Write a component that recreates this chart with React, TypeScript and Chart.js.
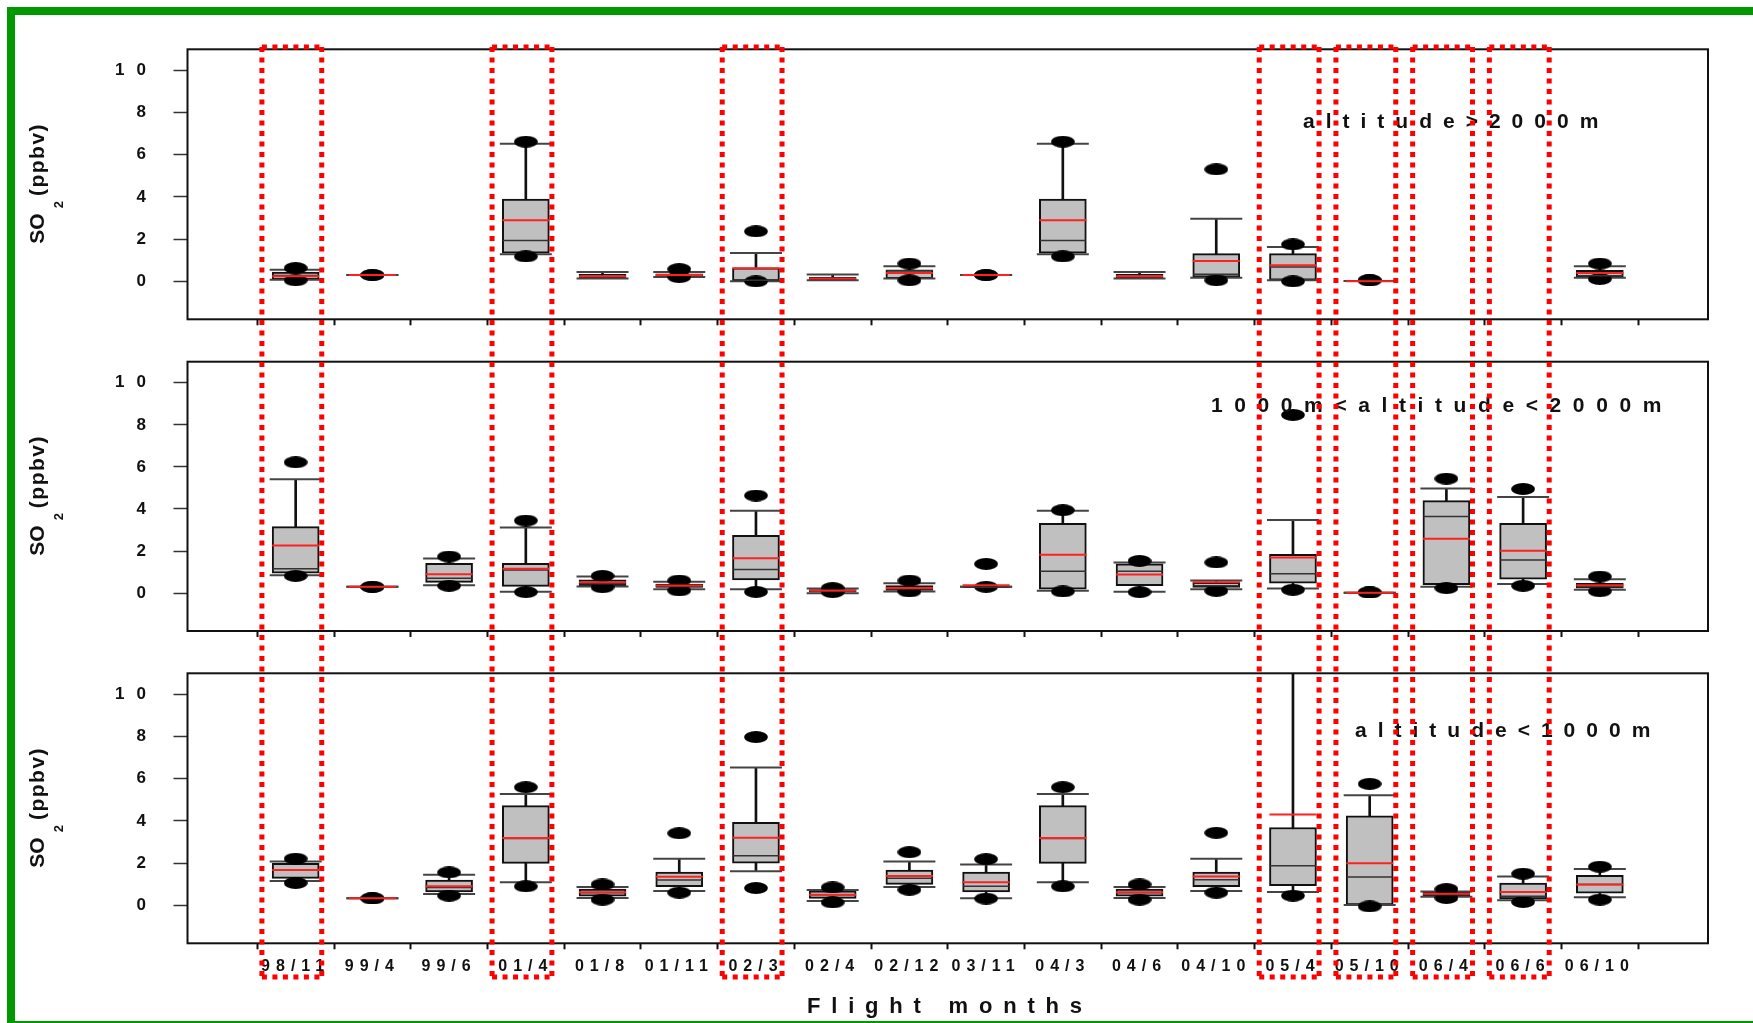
import React, { useEffect, useRef } from 'react';
import { Chart, registerables } from 'chart.js';

Chart.register(...registerables);

// ---------------- data ----------------
const months = ['', '98/11', '99/4', '99/6', '01/4', '01/8', '01/11', '02/3', '02/4', '02/12', '03/11', '04/3', '04/6', '04/10', '05/4', '05/10', '06/4', '06/6', '06/10', ''];
const highlightedMonths = ['98/11', '01/4', '02/3', '05/4', '05/10', '06/4', '06/6'];
const yTickValues = [0, 2, 4, 6, 8, 10];
const panelLabels = ['altitude>2000m', '1000m<altitude<2000m', 'altitude<1000m'];
const xTitle = 'Flight months';
const yTitleMain = 'SO';
const yTitleSub = '2';
const yTitleUnit = '(ppbv)';

// values for months[1..18]; null = no data
// altitude > 2000 m
const highP5 = [0.05, 0.3, null, 1.18, null, 0.2, 0.0, null, 0.05, 0.3, 1.18, null, 0.05, 0.0, 0.05, null, null, 0.11];
const highP10 = [0.08, 0.3, null, 1.28, 0.13, 0.2, 0.0, 0.05, 0.13, 0.3, 1.28, 0.13, 0.17, 0.05, 0.02, null, null, 0.17];
const highQ1 = [0.08, 0.3, null, 1.34, 0.16, 0.2, 0.0, 0.05, 0.13, 0.3, 1.34, 0.16, 0.2, 0.05, 0.02, null, null, 0.2];
const highMedian = [0.28, 0.3, null, 1.94, 0.22, 0.28, 0.05, 0.1, 0.5, 0.3, 1.94, 0.22, 0.33, 0.68, 0.02, null, null, 0.27];
const highMean = [0.24, 0.3, null, 2.89, 0.24, 0.3, 0.62, 0.13, 0.4, 0.3, 2.89, 0.24, 0.96, 0.76, 0.0, null, null, 0.4];
const highQ3 = [0.44, 0.3, null, 3.9, 0.33, 0.36, 0.64, 0.19, 0.55, 0.3, 3.9, 0.33, 1.31, 1.31, 0.02, null, null, 0.52];
const highP90 = [0.55, 0.3, null, 6.52, 0.44, 0.44, 1.34, 0.32, 0.71, 0.3, 6.52, 0.44, 2.97, 1.63, 0.02, null, null, 0.71];
const highP95 = [0.63, 0.3, null, 6.62, null, 0.58, 2.37, null, 0.84, 0.3, 6.62, null, 5.31, 1.75, 0.05, null, null, 0.84];

// 1000 m < altitude < 2000 m
const midP5 = [0.82, 0.3, 0.35, 0.05, 0.28, 0.13, 0.06, 0.05, 0.08, 0.3, 0.08, 0.05, 0.11, 0.16, 0.03, 0.24, 0.35, 0.09];
const midP10 = [0.85, 0.3, 0.38, 0.06, 0.32, 0.19, 0.19, 0.0, 0.08, 0.3, 0.11, 0.06, 0.19, 0.22, 0.02, 0.3, 0.43, 0.16];
const midQ1 = [0.95, 0.3, 0.51, 0.32, 0.36, 0.27, 0.63, 0.05, 0.13, 0.3, 0.19, 0.36, 0.27, 0.47, 0.02, 0.4, 0.66, 0.24];
const midMedian = [1.16, 0.3, 0.71, 1.1, 0.45, 0.32, 1.12, 0.1, 0.2, 0.28, 1.04, 1.04, 0.35, 0.92, 0.02, 3.64, 1.58, 0.3];
const midMean = [2.26, 0.3, 0.9, 1.16, 0.52, 0.36, 1.66, 0.13, 0.24, 0.38, 1.82, 0.89, 0.52, 1.69, 0.02, 2.58, 2.01, 0.38];
const midQ3 = [3.16, 0.3, 1.42, 1.42, 0.63, 0.43, 2.75, 0.17, 0.36, 0.3, 3.32, 1.39, 0.51, 1.85, 0.02, 4.4, 3.32, 0.47];
const midP90 = [5.41, 0.3, 1.65, 3.12, 0.79, 0.54, 3.91, 0.22, 0.47, 0.3, 3.92, 1.46, 0.6, 3.48, 0.02, 4.97, 4.57, 0.66];
const midP95 = [6.22, 0.3, 1.74, 3.45, 0.82, 0.6, 4.64, 0.24, 0.6, 1.39, 3.94, 1.53, 1.46, 8.47, 0.03, 5.44, 4.95, 0.79];

// altitude < 1000 m
const lowP5 = [1.06, 0.33, 0.46, 0.9, 0.27, 0.6, 0.82, 0.14, 0.74, 0.32, 0.9, 0.27, 0.6, 0.46, -0.05, 0.35, 0.16, 0.27];
const lowP10 = [1.15, 0.33, 0.54, 1.1, 0.35, 0.68, 1.62, 0.2, 0.87, 0.33, 1.1, 0.35, 0.68, 0.63, 0.02, 0.41, 0.24, 0.38];
const lowQ1 = [1.28, 0.33, 0.63, 1.99, 0.43, 0.88, 2.0, 0.33, 0.99, 0.63, 1.99, 0.43, 0.88, 0.93, 0.02, 0.41, 0.3, 0.58];
const lowMedian = [1.67, 0.33, 0.84, 3.17, 0.6, 1.2, 2.35, 0.5, 1.28, 0.91, 3.17, 0.6, 1.21, 1.88, 1.34, 0.5, 0.43, 0.99];
const lowMean = [1.67, 0.33, 0.9, 3.19, 0.62, 1.36, 3.2, 0.5, 1.39, 1.1, 3.19, 0.62, 1.37, 4.31, 2.0, 0.55, 0.63, 0.99];
const lowQ3 = [1.99, 0.33, 1.2, 4.73, 0.77, 1.58, 3.94, 0.69, 1.67, 1.58, 4.73, 0.77, 1.58, 3.69, 4.24, 0.66, 1.06, 1.42];
const lowP90 = [2.08, 0.33, 1.45, 5.28, 0.87, 2.21, 6.53, 0.73, 2.08, 1.94, 5.28, 0.87, 2.21, 12.5, 5.22, 0.66, 1.37, 1.72];
const lowP95 = [2.21, 0.33, 1.56, 5.6, 0.99, 3.42, 7.98, 0.85, 2.52, 2.19, 5.6, 0.99, 3.44, 13.5, 5.76, 0.77, 1.5, 1.83];

const panelStats = [
  { p5: highP5, p10: highP10, q1: highQ1, median: highMedian, mean: highMean, q3: highQ3, p90: highP90, p95: highP95 },
  { p5: midP5, p10: midP10, q1: midQ1, median: midMedian, mean: midMean, q3: midQ3, p90: midP90, p95: midP95 },
  { p5: lowP5, p10: lowP10, q1: lowQ1, median: lowMedian, mean: lowMean, q3: lowQ3, p90: lowP90, p95: lowP95 },
];

// ---------------- layout ----------------
const FONT = 'Arial, "Liberation Sans", sans-serif';
const PAGE_W = 1753;
const AREA_LEFT = 187.5;
const AREA_RIGHT_PAD = 45;
const Y_LABEL_RIGHT = 146;
const RECT_TOP = 47;
const RECT_BOTTOM = 977;
const panelLayout = [
  { top: 0, height: 345, padTop: 49.3, axisH: 25.7, labelDx: 1115.5, labelDy: 78.7, labelLs: 11 },
  { top: 345, height: 315, padTop: 16.7, axisH: 29, labelDx: 1023.5, labelDy: 50, labelLs: 11.6 },
  { top: 660, height: 363, padTop: 13.3, axisH: 79.7, labelDx: 1167.5, labelDy: 63.4, labelLs: 11 },
];

function makeDot() {
  const c = document.createElement('canvas');
  c.width = 24;
  c.height = 12;
  const g = c.getContext('2d');
  g.fillStyle = '#000';
  g.beginPath();
  g.ellipse(12, 6, 11.8, 5.9, 0, 0, Math.PI * 2);
  g.fill();
  return c;
}

const pts = (arr) => arr.map((v, i) => (v == null ? null : { x: i + 1, y: v })).filter(Boolean);
const ranges = (lo, hi) =>
  lo.map((v, i) => (v == null || hi[i] == null ? null : { x: i + 1, y: [v, hi[i]] })).filter(Boolean);

function drawYTitle(ctx, baselineX, centerY) {
  ctx.save();
  ctx.fillStyle = '#111';
  ctx.textAlign = 'left';
  ctx.textBaseline = 'alphabetic';
  ctx.font = 'bold 21px ' + FONT;
  ctx.letterSpacing = '0px';
  const wSO = ctx.measureText(yTitleMain).width;
  ctx.letterSpacing = '1.5px';
  const wP = ctx.measureText(yTitleUnit).width;
  ctx.font = 'bold 13px ' + FONT;
  ctx.letterSpacing = '0px';
  const w2 = ctx.measureText(yTitleSub).width;
  const total = wSO + 5 + w2 + 5 + wP;
  ctx.translate(baselineX, centerY + total / 2);
  ctx.rotate(-Math.PI / 2);
  ctx.font = 'bold 21px ' + FONT;
  ctx.fillText(yTitleMain, 0, 0);
  ctx.font = 'bold 13px ' + FONT;
  ctx.fillText(yTitleSub, wSO + 5, 19);
  ctx.font = 'bold 21px ' + FONT;
  ctx.letterSpacing = '1.5px';
  ctx.fillText(yTitleUnit, wSO + 5 + w2 + 5, 0);
  ctx.restore();
}

function PanelChart({ idx }) {
  const ref = useRef(null);
  const L = panelLayout[idx];
  useEffect(() => {
    const canvas = ref.current;
    const s = panelStats[idx];
    const dot = makeDot();
    const isBottom = idx === panelLayout.length - 1;

    const decor = {
      id: 'decor' + idx,
      beforeDraw(chart) {
        chart.ctx.letterSpacing = '6px';
      },
      afterDraw(chart) {
        const ctx = chart.ctx;
        const a = chart.chartArea;
        const xs = chart.scales.x;
        const ys = chart.scales.y;
        ctx.save();
        ctx.letterSpacing = '0px';
        // frame
        ctx.setLineDash([]);
        ctx.strokeStyle = '#111';
        ctx.lineWidth = 2;
        ctx.strokeRect(a.left, a.top, a.right - a.left, a.bottom - a.top);
        // y tick labels
        ctx.fillStyle = '#111';
        ctx.font = 'bold 17px ' + FONT;
        ctx.letterSpacing = '12px';
        ctx.textAlign = 'right';
        ctx.textBaseline = 'middle';
        for (const v of yTickValues) ctx.fillText(String(v), Y_LABEL_RIGHT + 12, ys.getPixelForValue(v));
        ctx.letterSpacing = '0px';
        // y title
        drawYTitle(ctx, 43.5, (a.top + a.bottom) / 2 - 1);
        // panel label
        ctx.font = 'bold 21px ' + FONT;
        ctx.letterSpacing = L.labelLs + 'px';
        ctx.textAlign = 'left';
        ctx.textBaseline = 'alphabetic';
        ctx.fillText(panelLabels[idx], a.left + L.labelDx, a.top + L.labelDy);
        // x title
        if (isBottom) {
          ctx.font = 'bold 22px ' + FONT;
          ctx.letterSpacing = '10.8px';
          ctx.fillText(xTitle, 807, 1012.7 - L.top);
        }
        ctx.letterSpacing = '0px';
        // red dotted highlight rectangles
        ctx.strokeStyle = '#ff0000';
        ctx.lineWidth = 5;
        ctx.lineCap = 'butt';
        ctx.setLineDash([5, 5.5]);
        for (const m of highlightedMonths) {
          const i = months.indexOf(m);
          const xl = xs.getPixelForValue(i - 0.44);
          const xr = xs.getPixelForValue(i + 0.34);
          const yTop = RECT_TOP - L.top;
          const yBot = RECT_BOTTOM - L.top;
          const y0 = Math.max(yTop, 0);
          const y1 = Math.min(yBot, L.height);
          ctx.lineDashOffset = y0 - yTop;
          for (const xx of [xl, xr]) {
            ctx.beginPath();
            ctx.moveTo(xx, y0);
            ctx.lineTo(xx, y1);
            ctx.stroke();
          }
          ctx.lineDashOffset = 0;
          if (yTop >= 0 && yTop <= L.height) {
            ctx.beginPath();
            ctx.moveTo(xl, yTop);
            ctx.lineTo(xr, yTop);
            ctx.stroke();
          }
          if (yBot >= 0 && yBot <= L.height) {
            ctx.beginPath();
            ctx.moveTo(xl, yBot);
            ctx.lineTo(xr, yBot);
            ctx.stroke();
          }
        }
        ctx.restore();
      },
    };

    const lineMark = (label, data, color, width, radius, order) => ({
      type: 'line',
      label,
      data: pts(data),
      showLine: false,
      pointStyle: 'line',
      pointRadius: radius,
      pointHoverRadius: radius,
      pointBorderWidth: width,
      pointBorderColor: color,
      pointBackgroundColor: color,
      order,
    });
    const dotMark = (label, data) => ({
      type: 'line',
      label,
      data: pts(data),
      showLine: false,
      pointStyle: dot,
      pointRadius: 6,
      pointHoverRadius: 6,
      pointBorderWidth: 0,
      order: 2,
    });

    const chart = new Chart(canvas, {
      type: 'bar',
      data: {
        datasets: [
          lineMark('mean', s.mean, '#ff2020', 2, 23.5, 0),
          lineMark('median', s.median, '#333333', 1.5, 23, 1),
          dotMark('5th percentile', s.p5),
          dotMark('95th percentile', s.p95),
          lineMark('10th percentile', s.p10, '#444444', 2, 26, 3),
          lineMark('90th percentile', s.p90, '#444444', 2, 26, 3),
          {
            type: 'bar',
            label: '25th-75th percentile',
            data: ranges(s.q1, s.q3),
            backgroundColor: '#c0c0c0',
            borderColor: '#111111',
            borderWidth: 2,
            borderSkipped: false,
            barThickness: 47,
            grouped: false,
            clip: 0,
            order: 4,
          },
          {
            type: 'bar',
            label: 'whisker',
            data: ranges(s.p10, s.p90),
            backgroundColor: '#111111',
            borderWidth: 0,
            barThickness: 2,
            grouped: false,
            clip: 0,
            order: 5,
          },
        ],
      },
      options: {
        animation: false,
        responsive: false,
        maintainAspectRatio: false,
        devicePixelRatio: 1,
        events: [],
        layout: { autoPadding: false, padding: { left: 0, right: AREA_RIGHT_PAD, top: L.padTop, bottom: 0 } },
        plugins: { legend: { display: false }, tooltip: { enabled: false }, title: { display: false } },
        scales: {
          x: {
            type: 'linear',
            bounds: 'data',
            min: -0.41,
            max: months.length - 1 + 0.41,
            offset: false,
            afterBuildTicks: (sc) => {
              sc.ticks = months.map((_, i) => ({ value: i }));
            },
            ticks: {
              display: isBottom,
              autoSkip: false,
              maxRotation: 0,
              minRotation: 0,
              padding: 8,
              color: '#111',
              font: { family: FONT, size: 16, weight: 'bold' },
              callback: (v) => months[v] ?? '',
            },
            grid: { display: true, drawOnChartArea: false, drawTicks: true, tickLength: 6, tickColor: '#111', tickWidth: 2 },
            border: { display: false },
            afterFit: (sc) => {
              sc.height = L.axisH;
            },
          },
          y: {
            type: 'linear',
            bounds: 'data',
            min: -1.8,
            max: 11,
            afterBuildTicks: (sc) => {
              sc.ticks = yTickValues.map((v) => ({ value: v }));
            },
            ticks: { display: false },
            grid: { display: true, drawOnChartArea: false, drawTicks: true, tickLength: 14, tickColor: '#333', tickWidth: 1.5 },
            border: { display: false },
            afterFit: (sc) => {
              sc.width = AREA_LEFT;
            },
          },
        },
      },
      plugins: [decor],
    });
    return () => chart.destroy();
  }, [idx]);

  return (
    <canvas
      ref={ref}
      width={PAGE_W}
      height={L.height}
      style={{ position: 'absolute', left: 0, top: L.top, width: PAGE_W, height: L.height, display: 'block' }}
    />
  );
}

export default function App() {
  return (
    <div style={{ position: 'fixed', left: 0, top: 0, width: PAGE_W, height: 1023, overflow: 'hidden', background: '#fff' }}>
      <div
        style={{
          position: 'absolute',
          left: 7,
          top: 7,
          width: 1800,
          height: 1022,
          border: '8px solid #009a00',
          boxSizing: 'border-box',
        }}
      />
      {panelLayout.map((_, i) => (
        <PanelChart key={i} idx={i} />
      ))}
    </div>
  );
}
